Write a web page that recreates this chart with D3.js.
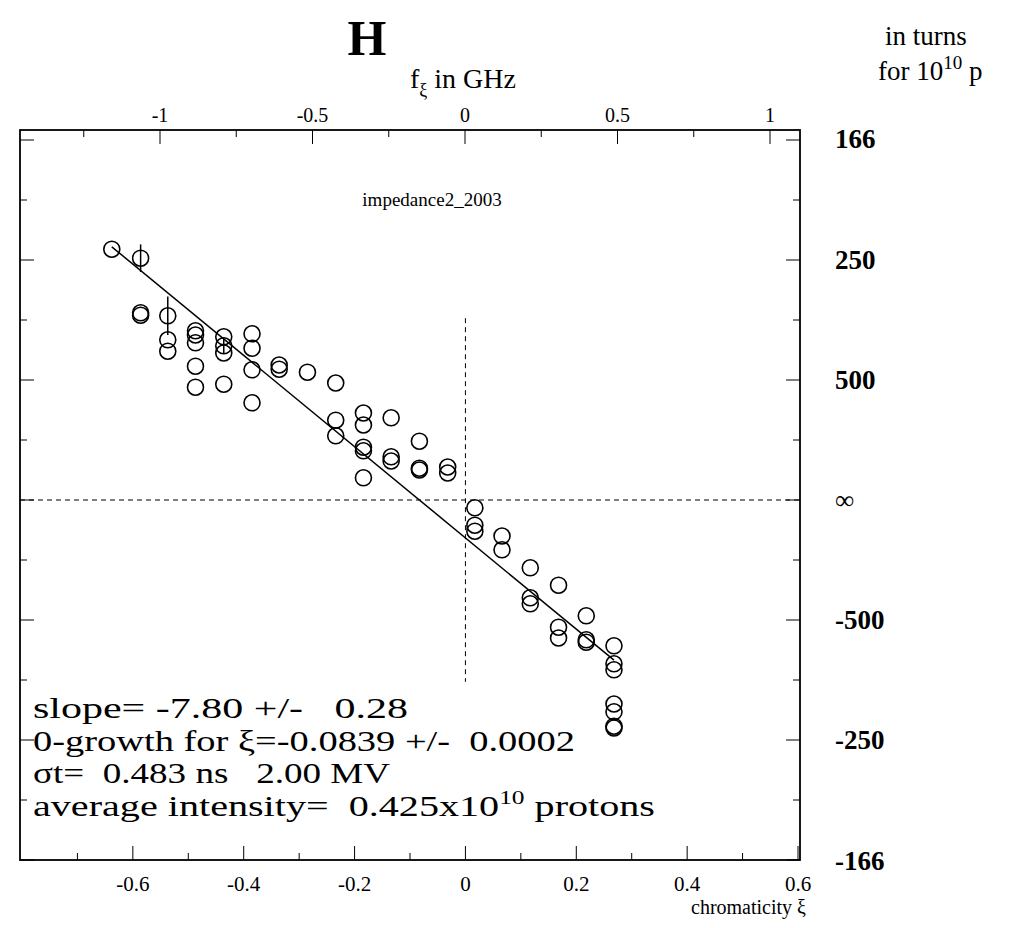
<!DOCTYPE html>
<html><head><meta charset="utf-8">
<script src="https://cdn.jsdelivr.net/npm/d3@7"></script>
<style>body{margin:0;background:#fff}text{font-family:"Liberation Serif","DejaVu Serif",serif}</style>
</head><body><svg id="c" width="1030" height="928"></svg>
<script>
// chromaticity xi, growth rate (1e-3 per turn)
const xiVals = [-0.638,-0.586,-0.586,-0.586,-0.537,-0.537,-0.537,-0.487,-0.487,-0.487,-0.487,-0.487,-0.436,-0.436,-0.436,-0.436,-0.385,-0.385,-0.385,-0.385,-0.336,-0.336,-0.285,-0.234,-0.234,-0.234,-0.184,-0.184,-0.184,-0.184,-0.184,-0.134,-0.134,-0.134,-0.083,-0.083,-0.083,-0.032,-0.032,0.017,0.017,0.017,0.066,0.066,0.117,0.117,0.117,0.168,0.168,0.168,0.218,0.218,0.218,0.268,0.268,0.268,0.268,0.268,0.268,0.268];
const rateVals = [4.18,4.03,3.12,3.08,3.07,2.67,2.48,2.82,2.75,2.62,2.23,1.88,2.72,2.57,2.45,1.93,2.77,2.53,2.17,1.62,2.25,2.18,2.13,1.95,1.33,1.07,1.45,1.25,0.88,0.82,0.37,1.37,0.72,0.65,0.98,0.53,0.50,0.55,0.45,-0.13,-0.42,-0.52,-0.60,-0.83,-1.13,-1.63,-1.73,-1.42,-2.12,-2.30,-1.93,-2.33,-2.37,-2.43,-2.73,-2.83,-3.40,-3.53,-3.77,-3.80];
const errBars = [[-0.586,4.03,0.23],[-0.537,3.07,0.32],[-0.436,2.57,0.12]];
const fitLine = [[-0.638,4.22],[0.268,-2.67]];
const bottomTicks = [-0.6,-0.4,-0.2,0,0.2,0.4,0.6];
const topTicks = [-1,-0.5,0,0.5,1];
const rightTicks = [[6.024,"166"],[4,"250"],[2,"500"],[0,"∞"],[-2,"-500"],[-4,"-250"],[-6.024,"-166"]];
const infoLines = ["slope= -7.80 +/-   0.28","0-growth for ξ=-0.0839 +/-  0.0002","σt=  0.483 ns   2.00 MV"];
const infoWidths = [375,542,357,622];

const svg = d3.select("#c");
const L=20,R=800,T=130,B=860;
const x = d3.scaleLinear().domain([-0.8,0.6]).range([L+2,R-2]);
const y = d3.scaleLinear().domain([-6,6]).range([860,140]);
const xf = d3.scaleLinear().domain([0,1]).range([465,770]);

svg.append("rect").attr("x",L).attr("y",T).attr("width",R-L).attr("height",B-T).attr("fill","none").attr("stroke","#000").attr("stroke-width",1.8);

bottomTicks.forEach(v=>{
  svg.append("line").attr("x1",x(v)).attr("x2",x(v)).attr("y1",B).attr("y2",B-14).attr("stroke","#000");
  svg.append("text").attr("x",x(v)).attr("y",B+31).attr("text-anchor","middle").attr("font-size",21).text(v===0?"0":v);
});
d3.range(-0.7,0.6,0.2).forEach(v=>{svg.append("line").attr("x1",x(v)).attr("x2",x(v)).attr("y1",B).attr("y2",B-7).attr("stroke","#000");});
topTicks.forEach(v=>{
  svg.append("line").attr("x1",xf(v)).attr("x2",xf(v)).attr("y1",T).attr("y2",T+14).attr("stroke","#000");
  svg.append("text").attr("x",xf(v)).attr("y",T-8).attr("text-anchor","middle").attr("font-size",20).text(v);
});
d3.range(-1.25,1.1,0.5).forEach(v=>{svg.append("line").attr("x1",xf(v)).attr("x2",xf(v)).attr("y1",T).attr("y2",T+7).attr("stroke","#000");});
d3.range(-6,6.01,1).forEach(v=>{
  const len = Math.round(v)%2===0?14:7;
  svg.append("line").attr("x1",L).attr("x2",L+len).attr("y1",y(v)).attr("y2",y(v)).attr("stroke","#000");
  svg.append("line").attr("x1",R).attr("x2",R-len).attr("y1",y(v)).attr("y2",y(v)).attr("stroke","#000");
});
rightTicks.forEach(([v,l])=>{
  svg.append("text").attr("x",835).attr("y",y(v)+9).attr("font-size",27).attr("font-weight",l==="∞"?"normal":"bold").text(l);
});

svg.append("line").attr("x1",L).attr("x2",R).attr("y1",y(0)).attr("y2",y(0)).attr("stroke","#000").attr("stroke-dasharray","5,4");
svg.append("line").attr("x1",x(0)).attr("x2",x(0)).attr("y1",y(3.03)).attr("y2",y(-3.03)).attr("stroke","#000").attr("stroke-dasharray","5,4");

svg.append("line").attr("x1",x(fitLine[0][0])).attr("y1",y(fitLine[0][1])).attr("x2",x(fitLine[1][0])).attr("y2",y(fitLine[1][1])).attr("stroke","#000").attr("stroke-width",1.5);
errBars.forEach(([a,b,e])=>svg.append("line").attr("x1",x(a)).attr("x2",x(a)).attr("y1",y(b+e)).attr("y2",y(b-e)).attr("stroke","#000").attr("stroke-width",1.5));
svg.selectAll("circle.p").data(xiVals.map((v,i)=>[v,rateVals[i]])).join("circle")
  .attr("cx",d=>x(d[0])).attr("cy",d=>y(d[1])).attr("r",8).attr("fill","none").attr("stroke","#000").attr("stroke-width",1.6);

svg.append("text").attr("x",367).attr("y",55).attr("text-anchor","middle").attr("font-size",50).attr("font-weight","bold").text("H");
const ft=svg.append("text").attr("x",463).attr("y",88).attr("text-anchor","middle").attr("font-size",28);
ft.append("tspan").text("f");ft.append("tspan").attr("font-size",18).attr("dy",8).text("ξ");ft.append("tspan").attr("dy",-8).text(" in GHz");
svg.append("text").attr("x",885).attr("y",45).attr("font-size",27).text("in turns");
const f2=svg.append("text").attr("x",878).attr("y",80).attr("font-size",27);
f2.append("tspan").text("for 10");f2.append("tspan").attr("font-size",19).attr("dy",-11).text("10");f2.append("tspan").attr("dy",11).text(" p");
svg.append("text").attr("x",432).attr("y",206).attr("text-anchor","middle").attr("font-size",19).text("impedance2_2003");
infoLines.forEach((t,i)=>svg.append("text").attr("x",33).attr("y",718+i*32.5).attr("font-size",30)
  .attr("textLength",infoWidths[i]).attr("lengthAdjust","spacingAndGlyphs").attr("xml:space","preserve").text(t));
const ai=svg.append("text").attr("x",33).attr("y",816).attr("font-size",30).attr("xml:space","preserve")
  .attr("textLength",infoWidths[3]).attr("lengthAdjust","spacingAndGlyphs");
ai.append("tspan").text("average intensity=  0.425x10");ai.append("tspan").attr("font-size",19).attr("dy",-12).text("10");ai.append("tspan").attr("dy",12).text(" protons");
svg.append("text").attr("x",806).attr("y",914).attr("text-anchor","end").attr("font-size",20).text("chromaticity ξ");
</script></body></html>
